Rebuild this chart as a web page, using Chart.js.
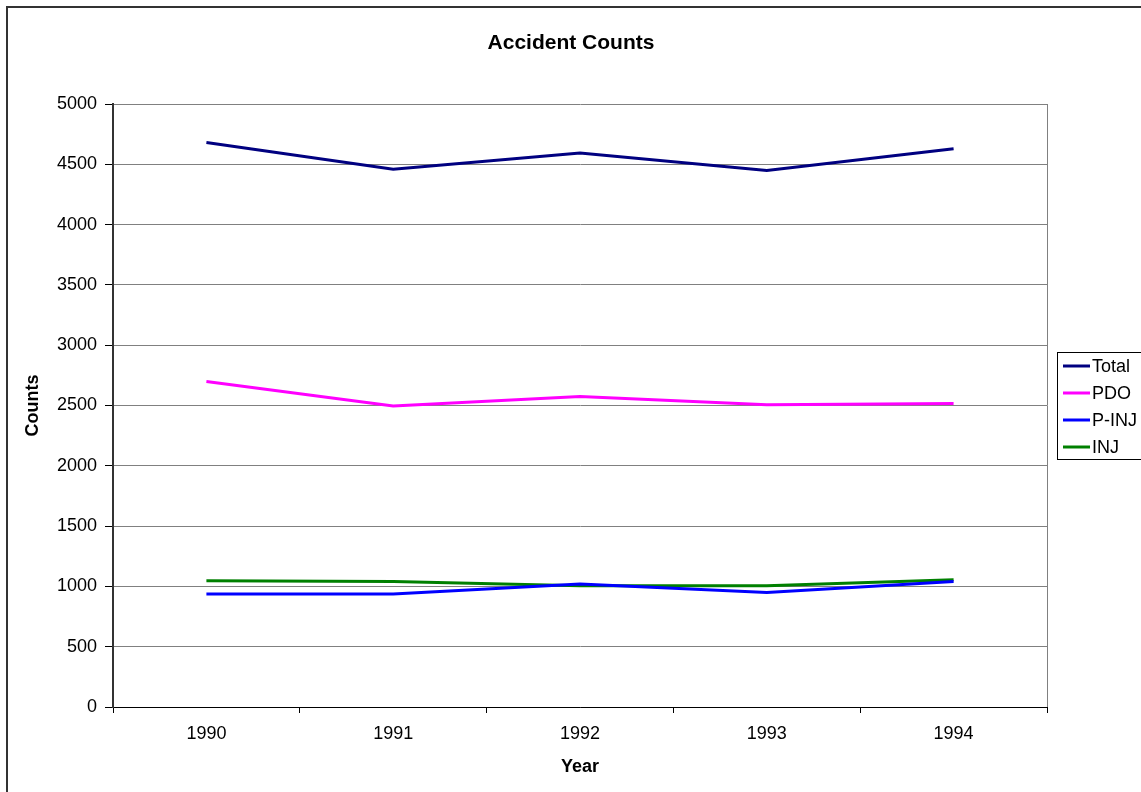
<!DOCTYPE html>
<html>
<head>
<meta charset="utf-8">
<script src="https://cdn.jsdelivr.net/npm/chart.js@4"></script>
<style>
  body { margin: 0; background: #fff; overflow: hidden; }
  #wrap { position: relative; width: 1141px; height: 792px; }
  #frame { position: absolute; left: 6px; top: 6px; width: 1200px; height: 900px;
           border-left: 2px solid #333; border-top: 2px solid #333; pointer-events: none; }
</style>
</head>
<body>
<div id="wrap">
  <canvas id="chartCanvas" width="1141" height="792"></canvas>
  <div id="frame"></div>
</div>
<script>
const years = ['1990', '1991', '1992', '1993', '1994'];
const totalCounts = [4681, 4460, 4593, 4449, 4629];
const pdoCounts = [2699, 2495, 2575, 2506, 2517];
const pinjCounts = [937, 937, 1020, 950, 1040];
const injCounts = [1047, 1040, 1005, 1006, 1056];

const seriesNames = ['Total', 'PDO', 'P-INJ', 'INJ'];
const seriesColors = ['#000080', '#ff00ff', '#0000ff', '#008000'];
const chartTitle = 'Accident Counts';

const fontFamily = 'Arial, "Liberation Sans", sans-serif';

// title, right edge of the plot area and a boxed legend
const extras = {
    id: 'extras',
    afterDraw(chart) {
        const ctx = chart.ctx;
        const a = chart.chartArea;
        ctx.save();
        ctx.strokeStyle = '#808080';
        ctx.lineWidth = 1;
        ctx.beginPath();
        ctx.moveTo(a.right + 0.5, a.top);
        ctx.lineTo(a.right + 0.5, a.bottom);
        ctx.stroke();

        // title
        ctx.fillStyle = '#000';
        ctx.font = 'bold 21px ' + fontFamily;
        ctx.textAlign = 'center';
        ctx.textBaseline = 'middle';
        ctx.fillText(chartTitle, 571, 43);

        // legend
        ctx.strokeStyle = '#000';
        ctx.lineWidth = 1;
        ctx.strokeRect(1057.5, 352.5, 100, 107);
        ctx.font = '18px ' + fontFamily;
        ctx.textAlign = 'left';
        chart.data.datasets.forEach((ds, i) => {
            const y = 366 + i * 27;
            ctx.strokeStyle = ds.borderColor;
            ctx.lineWidth = 3;
            ctx.beginPath();
            ctx.moveTo(1063, y);
            ctx.lineTo(1090, y);
            ctx.stroke();
            ctx.fillStyle = '#000';
            ctx.fillText(ds.label, 1092, y + 1);
        });
        ctx.restore();
    }
};

const ctx = document.getElementById("chartCanvas").getContext("2d");
const chart = new Chart(ctx, {
    type: 'line',
    data: {
        labels: years,
        datasets: [totalCounts, pdoCounts, pinjCounts, injCounts].map((vals, i) => ({
            label: seriesNames[i],
            data: vals,
            borderColor: seriesColors[i],
            backgroundColor: seriesColors[i],
            borderWidth: 3,
            pointRadius: 0,
            fill: false,
            tension: 0
        }))
    },
    options: {
        responsive: false,
        animation: false,
        devicePixelRatio: 1,
        layout: { padding: { left: 0, right: 94, top: 104, bottom: 0 } },
        plugins: {
            legend: { display: false },
            tooltip: { enabled: false },
            title: { display: false }
        },
        scales: {
            x: {
                offset: true,
                grid: { offset: true, drawOnChartArea: false, tickLength: 6, color: '#000', tickColor: '#000' },
                border: { color: '#000', width: 1 },
                ticks: { color: '#000', padding: 10, font: { family: fontFamily, size: 18 } },
                title: {
                    display: true, text: 'Year', color: '#000',
                    font: { family: fontFamily, size: 18, weight: 'bold' },
                    padding: { top: 0, bottom: 14 }
                },
                afterFit: s => { s.height = 85; }
            },
            y: {
                min: 0,
                max: 5000,
                ticks: {
                    stepSize: 500, color: '#000', padding: 8,
                    font: { family: fontFamily, size: 18 },
                    callback: v => String(v)
                },
                grid: { color: '#808080', tickColor: '#000', tickLength: 8, lineWidth: 1 },
                border: { color: '#333', width: 2 },
                title: {
                    display: true, text: 'Counts', color: '#000',
                    font: { family: fontFamily, size: 18, weight: 'bold' },
                    padding: { top: 22, bottom: 0 }
                },
                afterFit: s => { s.width = 113; }
            }
        }
    },
    plugins: [extras]
});
</script>
</body>
</html>
